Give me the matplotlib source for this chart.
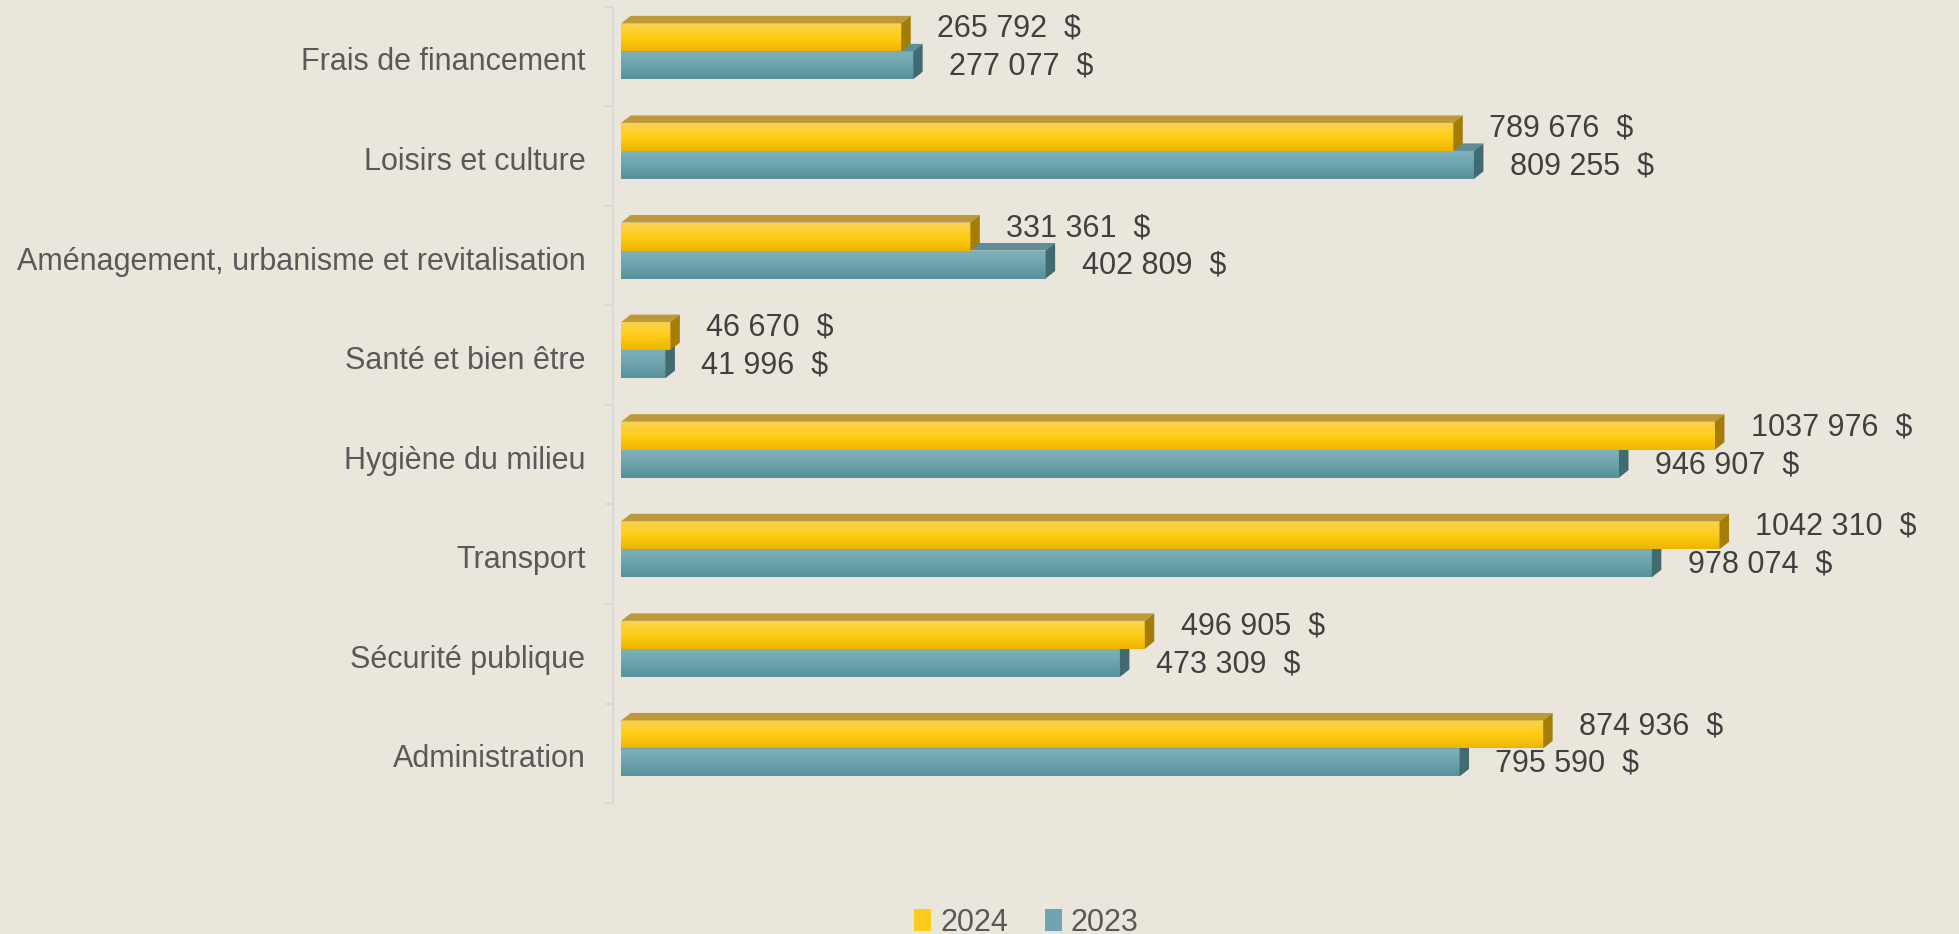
import numpy as np
import matplotlib.pyplot as plt
from matplotlib.colors import LinearSegmentedColormap
from matplotlib.patches import Polygon, Patch

# données (de haut en bas)
categories = ["Frais de financement", "Loisirs et culture",
              "Aménagement, urbanisme et revitalisation", "Santé et bien être",
              "Hygiène du milieu", "Transport", "Sécurité publique", "Administration"]
values_2024 = [265792, 789676, 331361, 46670, 1037976, 1042310, 496905, 874936]
values_2023 = [277077, 809255, 402809, 41996, 946907, 978074, 473309, 795590]
series_names = ["2024", "2023"]

BG = "#EAE6DC"
FONT = "Liberation Sans"


def fmt(v):
    # format du rapport : seul le dernier groupe est séparé
    return f"{v // 1000} {v % 1000:03d}  $"


fig = plt.figure(figsize=(19.59, 9.34), dpi=100, facecolor=BG)
ax = fig.add_axes([0.313, 0.140, 0.672, 0.853], facecolor=BG)

XMIN, XMAX = -7600, 1241700
n = len(categories)
px_x = (XMAX - XMIN) / (0.672 * 1959)   # unités par pixel
px_y = 1 / (0.853 * 934 / n)

bar_h = 28 * px_y
shift = 5 * px_y
dx = 9.5 * px_x
dy = 7.5 * px_y

styles = {
    "2024": dict(grad=["#F9D252", "#FFCD14", "#EDB500"], top="#BE993A", side="#A37D06"),
    "2023": dict(grad=["#7EB2BA", "#6CA3AC", "#58919B"], top="#5E8D94", side="#3F6B71"),
}

grad = np.linspace(0, 1, 64).reshape(-1, 1)


def draw_bar(v, yt, yb, st, z):
    cmap = LinearSegmentedColormap.from_list("g", st["grad"])
    ax.imshow(grad, cmap=cmap, extent=[0, v, yb, yt], aspect="auto",
              origin="upper", zorder=z, interpolation="bilinear")
    ax.add_patch(Polygon([(0, yt), (v, yt), (v + dx, yt - dy), (dx, yt - dy)],
                         closed=True, facecolor=st["top"], edgecolor="none", zorder=z))
    ax.add_patch(Polygon([(v, yt), (v + dx, yt - dy), (v + dx, yb - dy), (v, yb)],
                         closed=True, facecolor=st["side"], edgecolor="none", zorder=z))


for i in range(n):
    c = i - shift
    # 2023 en dessous, dessiné d'abord
    draw_bar(values_2023[i], c, c + bar_h, styles["2023"], 2)
    draw_bar(values_2024[i], c - bar_h, c, styles["2024"], 3)
    ax.annotate(fmt(values_2024[i]), xy=(values_2024[i] + dx, c - bar_h / 2),
                xytext=(19, 6), textcoords="offset points", va="center", ha="left",
                fontsize=22, color="#404040", family=FONT)
    ax.annotate(fmt(values_2023[i]), xy=(values_2023[i] + dx, c + bar_h / 2),
                xytext=(19, -1), textcoords="offset points", va="center", ha="left",
                fontsize=22, color="#404040", family=FONT)

ax.set_xlim(XMIN, XMAX)
ax.set_ylim(n - 0.5, -0.5)

ax.set_yticks(np.arange(n) + 2.5 * px_y)
ax.set_yticklabels(categories, fontsize=22, color="#595959", family=FONT)
ax.set_yticks(np.arange(-0.5, n, 1), minor=True)
ax.tick_params(axis="y", which="major", length=0, pad=20)
ax.tick_params(axis="y", which="minor", length=5.8, width=1.4, color="#D9D9D9")
ax.set_xticks([])
for s in ["top", "right", "bottom"]:
    ax.spines[s].set_visible(False)
ax.spines["left"].set_color("#D9D9D9")
ax.spines["left"].set_linewidth(1.4)

handles = [Patch(facecolor="#FCCB1E", label=series_names[0]),
           Patch(facecolor="#6FA5AE", label=series_names[1])]
fig.legend(handles=handles, loc="center", bbox_to_anchor=(0.524, 0.012), ncol=2,
           frameon=False, handlelength=0.55, handleheight=0.75, handletextpad=0.3,
           columnspacing=1.2, prop={"family": FONT, "size": 22}, labelcolor="#595959")

fig.savefig("out.png", dpi=100, facecolor=BG)
